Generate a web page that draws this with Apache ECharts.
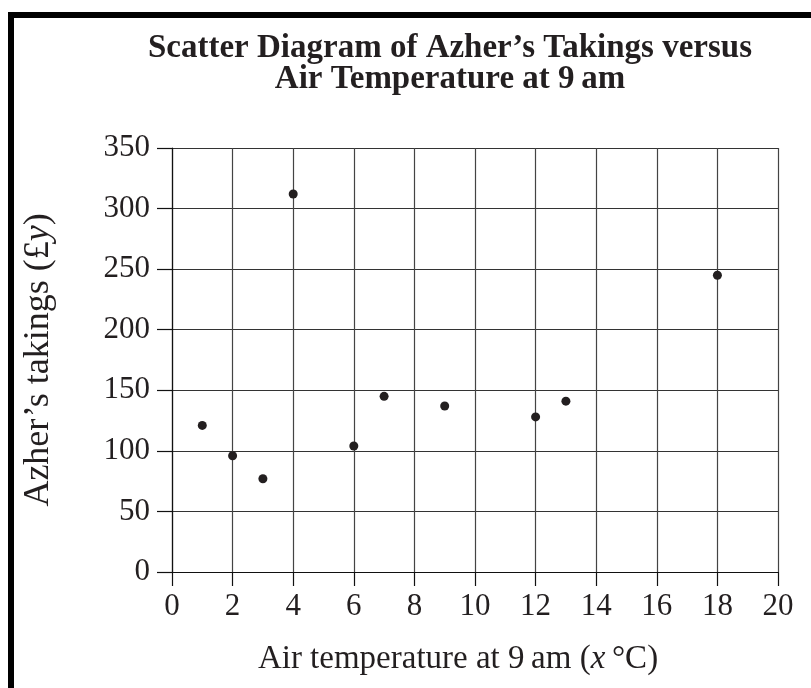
<!DOCTYPE html>
<html>
<head>
<meta charset="utf-8">
<script src="https://cdn.jsdelivr.net/npm/echarts@6/dist/echarts.min.js"></script>
<style>
    html, body { margin: 0; padding: 0; background: #fff; }
    #chart { width: 811px; height: 688px; }
</style>
</head>
<body>
<div id="chart"></div>
<script>
    // temperature at 9 am (x) and takings (y)
    var temps = [1, 2, 3, 4, 6, 7, 9, 12, 13, 18];
    var takings = [121, 96, 77, 312, 104, 145, 137, 128, 141, 245];
    var xTicks = [0, 2, 4, 6, 8, 10, 12, 14, 16, 18, 20];
    var yTicks = [0, 50, 100, 150, 200, 250, 300, 350];

    var points = temps.map(function (t, i) { return [t, takings[i]]; });
    var serif = '"Liberation Serif", "DejaVu Serif", serif';
    var ink = '#231f20';

    var myChart = echarts.init(document.getElementById('chart'));
    var option = {
        backgroundColor: '#fff',
        animation: false,
        title: {
            text: 'Scatter Diagram of Azher\u2019s Takings versus\nAir Temperature at 9\u2009am',
            left: 445,
            top: 28,
            textAlign: 'center',
            textStyle: {
                fontFamily: serif,
                fontWeight: 'bold',
                fontSize: 33,
                lineHeight: 31,
                color: ink
            }
        },
        // page frame: left and top bars
        graphic: [
            { type: 'rect', shape: { x: 8, y: 12, width: 6, height: 680 }, style: { fill: '#000' } },
            { type: 'rect', shape: { x: 8, y: 12, width: 810, height: 6 }, style: { fill: '#000' } }
        ],
        grid: { left: 172, top: 148, width: 606, height: 424 },
        xAxis: {
            type: 'value',
            min: xTicks[0],
            max: xTicks[xTicks.length - 1],
            interval: 2,
            name: 'Air temperature at 9\u2009am ({i|x}\u2009°C)',
            nameLocation: 'middle',
            nameGap: 71,
            nameTextStyle: {
                fontFamily: serif, fontSize: 33, color: ink,
                padding: [0, 34, 0, 0],
                rich: { i: { fontFamily: serif, fontSize: 33, fontStyle: 'italic', color: ink } }
            },
            axisLine: { lineStyle: { color: '#111', width: 1.2 } },
            axisTick: { length: 14, lineStyle: { color: '#111', width: 1.2 } },
            axisLabel: { margin: 19, fontFamily: serif, fontSize: 31, color: ink },
            splitLine: { show: true, lineStyle: { color: '#444', width: 1.2 } }
        },
        yAxis: {
            type: 'value',
            min: yTicks[0],
            max: yTicks[yTicks.length - 1],
            interval: 50,
            name: 'Azher\u2019s takings (£{i|y})',
            nameLocation: 'middle',
            nameGap: 115,
            nameTextStyle: {
                fontFamily: serif, fontSize: 36, color: ink,
                rich: { i: { fontFamily: serif, fontSize: 36, fontStyle: 'italic', color: ink } }
            },
            axisLine: { show: true, lineStyle: { color: '#111', width: 1.2 } },
            axisTick: { show: true, length: 15, lineStyle: { color: '#111', width: 1.2 } },
            axisLabel: { margin: 22, fontFamily: serif, fontSize: 31, color: ink },
            splitLine: { show: true, lineStyle: { color: '#333', width: 1.2 } }
        },
        series: [{
            type: 'scatter',
            data: points,
            symbolSize: 9,
            itemStyle: { color: ink, opacity: 1 }
        }]
    };
    myChart.setOption(option);
</script>
</body>
</html>
